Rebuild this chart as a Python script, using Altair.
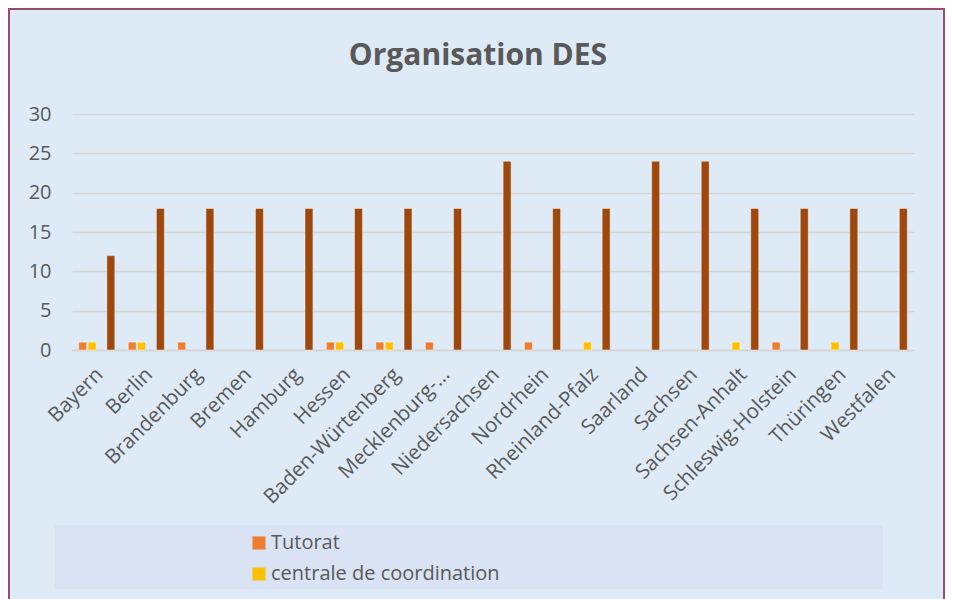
import altair as alt
import pandas as pd

states = ["Bayern", "Berlin", "Brandenburg", "Bremen", "Hamburg", "Hessen",
          "Baden-Würtenberg", "Mecklenburg-Vorpommern", "Niedersachsen", "Nordrhein",
          "Rheinland-Pfalz", "Saarland", "Sachsen", "Sachsen-Anhalt",
          "Schleswig-Holstein", "Thüringen", "Westfalen"]
tutorat = [1, 1, 1, None, None, 1, 1, 1, None, 1, None, None, None, None, 1, None, None]
centrale = [1, 1, None, None, None, 1, 1, None, None, None, 1, None, None, 1, None, 1, None]
serie3 = [None] * 17
serie4 = [12, 18, 18, 18, 18, 18, 18, 18, 24, 18, 18, 24, 24, 18, 18, 18, 18]

series_names = ["Tutorat", "centrale de coordination", "Série 3", "Série 4"]
colors = ["#ED7D31", "#FFC000", "#A5A5A5", "#9E480E"]
y_ticks = [0, 5, 10, 15, 20, 25, 30]
title_text = "Organisation DES"

rows = []
for i, s in enumerate(states):
    for name, vals in zip(series_names, [tutorat, centrale, serie3, serie4]):
        if vals[i] is not None:
            rows.append({"Land": s, "Série": name, "Valeur": vals[i]})
df = pd.DataFrame(rows)

TXT = "#595959"
FONT = "Open Sans"
W, H = 842, 236

bars = alt.Chart(df).mark_bar(stroke="white", strokeOpacity=0.45, strokeWidth=1).encode(
    x=alt.X("Land:N", sort=states,
            scale=alt.Scale(paddingInner=0.27, paddingOuter=0.135),
            axis=alt.Axis(title=None, labelAngle=-45, labelFontSize=20.5, labelColor=TXT,
                          labelFont=FONT, labelPadding=14, labelOffset=-4, ticks=False,
                          domainColor="#D4D4D4", domainWidth=1.5, labelLimit=400,
                          labelExpr="datum.label == 'Mecklenburg-Vorpommern' ? 'Mecklenburg-…' : datum.label")),
    xOffset=alt.XOffset("Série:N", scale=alt.Scale(domain=series_names, paddingInner=0.15, paddingOuter=0)),
    y=alt.Y("Valeur:Q", scale=alt.Scale(domain=[0, 30]),
            axis=alt.Axis(title=None, values=y_ticks, labelFontSize=20, labelColor=TXT,
                          labelFont=FONT, labelPadding=21, ticks=False, domain=False,
                          gridColor="#D4D4D4", gridWidth=1.5)),
    color=alt.Color("Série:N", scale=alt.Scale(domain=series_names, range=colors),
                    legend=alt.Legend(title=None, orient="none", legendX=177, legendY=419,
                                      values=series_names[:2], symbolType="square",
                                      symbolSize=170, symbolStrokeWidth=0, labelFontSize=20,
                                      labelFont=FONT, labelColor=TXT, rowPadding=11,
                                      labelOffset=2, labelLimit=500, direction="vertical")),
)

one = pd.DataFrame({"t": [title_text]})
legend_box = alt.Chart(one).mark_rect(color="#D9E3F3").encode(
    x=alt.value(-17), x2=alt.value(811), y=alt.value(411), y2=alt.value(475)
)
frame = alt.Chart(one).mark_rect(fill=None, stroke="#9A4B6E", strokeWidth=2).encode(
    x=alt.value(-63), x2=alt.value(W + 30), y=alt.value(-105), y2=alt.value(H + 300)
)
title = alt.Chart(one).mark_text(fontSize=30, fontWeight="bold", color=TXT, font=FONT,
                                 align="center", baseline="middle").encode(
    text="t:N", x=alt.value(406), y=alt.value(-58)
)

chart = alt.layer(legend_box, bars, frame, title).properties(
    width=W, height=H,
    autosize=alt.AutoSizeParams(type="none"),
    padding={"left": 64, "top": 106, "right": 31, "bottom": 250},
).configure(background="#DEEBF7").configure_view(stroke=None)

chart.save("out.html", embed_options={"renderer": "svg", "actions": False})
